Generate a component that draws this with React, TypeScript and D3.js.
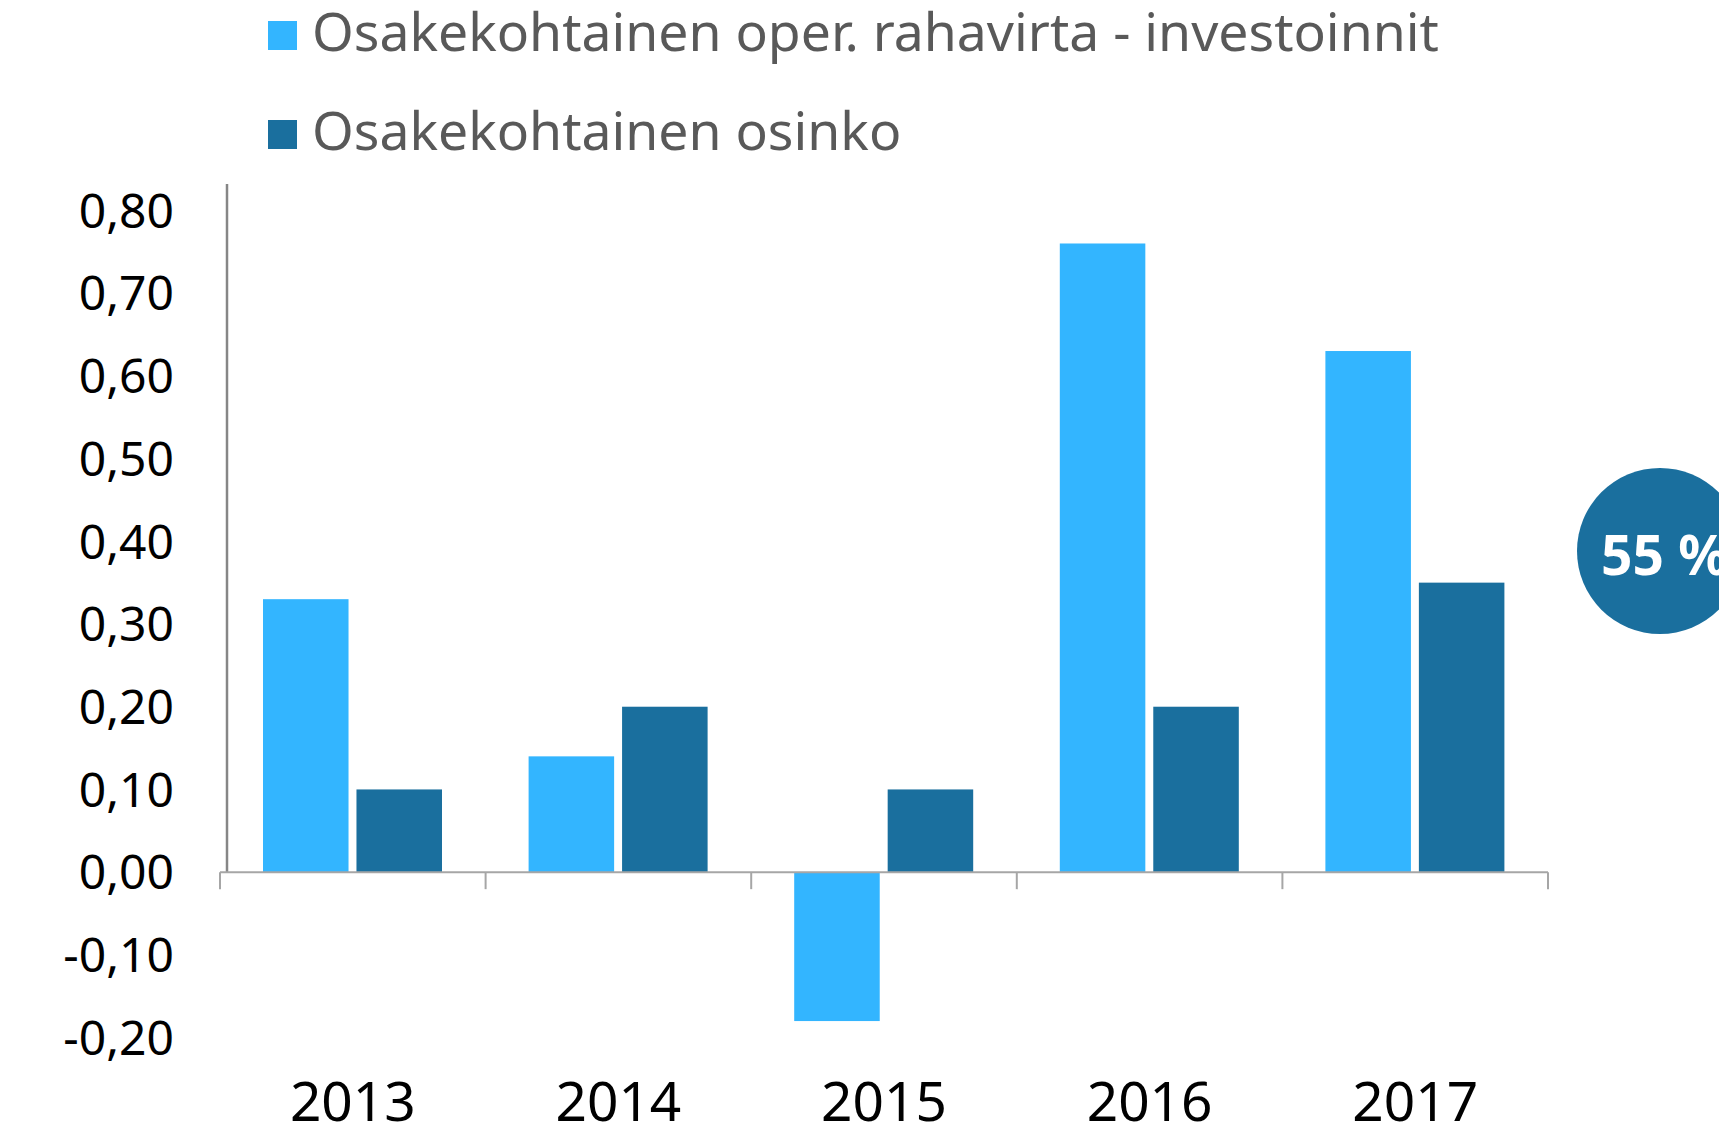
import React from 'react';
import * as d3 from 'd3';

const years = ['2013', '2014', '2015', '2016', '2017'];
const seriesNames = [
	'Osakekohtainen oper. rahavirta - investoinnit',
	'Osakekohtainen osinko',
];
const cashFlowPerShare = [0.33, 0.14, -0.18, 0.76, 0.63];
const dividendPerShare = [0.1, 0.2, 0.1, 0.2, 0.35];
const yTicks = [-0.2, -0.1, 0, 0.1, 0.2, 0.3, 0.4, 0.5, 0.6, 0.7, 0.8];
const badgeText = '55 %';

const colors = ['#33b5ff', '#1a6f9e'];
const font = "'Noto Sans', sans-serif";

const App = () => {
	const svgWidth = 1719;
	const svgHeight = 1130;

	const xScale = d3.scaleBand().domain(years).range([220, 1548]);
	const innerScale = d3
		.scaleBand()
		.domain(seriesNames)
		.range([43, 222])
		.paddingInner(0.085);
	const yScale = d3.scaleLinear().domain([-0.2, 0.8]).range([1037.6, 210.4]);

	const seriesValues = [cashFlowPerShare, dividendPerShare];
	const fmt = (v) => d3.format('.2f')(v).replace('.', ',').replace('−', '-');
	const zeroY = yScale(0);

	return (
		<svg
			width={svgWidth}
			height={svgHeight}
			style={{ position: 'absolute', left: 0, top: 0, display: 'block' }}
		>
			{/* legend */}
			<g className='legend'>
				{seriesNames.map((name, i) => (
					<g key={name} transform={`translate(268, ${21 + i * 99})`}>
						<rect width={29} height={29} fill={colors[i]} />
						<text
							x={44}
							y={30}
							fontFamily={font}
							fontSize={53.5}
							fill='#595959'
						>
							{name}
						</text>
					</g>
				))}
			</g>

			{/* bars */}
			<g className='bars'>
				{seriesValues.map((values, s) =>
					values.map((v, i) => {
						const x = xScale(years[i]) + innerScale(seriesNames[s]);
						const y0 = yScale(Math.max(0, v));
						const y1 = yScale(Math.min(0, v));
						return (
							<rect
								key={s + '-' + i}
								x={x}
								y={y0}
								width={innerScale.bandwidth()}
								height={y1 - y0}
								fill={colors[s]}
							/>
						);
					})
				)}
			</g>

			{/* y axis */}
			<g className='axis-left'>
				<line x1={227} x2={227} y1={184} y2={zeroY} stroke='#868686' strokeWidth={2.5} />
				{yTicks.map((t) => (
					<text
						key={t}
						x={174}
						y={yScale(t)}
						dy='0.36em'
						textAnchor='end'
						fontFamily={font}
						fontSize={48}
						fill='#000'
					>
						{fmt(t)}
					</text>
				))}
			</g>

			{/* x axis */}
			<g className='axis-bottom'>
				<line x1={220} x2={1548} y1={zeroY} y2={zeroY} stroke='#a6a6a6' strokeWidth={2} />
				{[...years.map((d) => xScale(d)), xScale.range()[1]].map((x, i) => (
					<line
						key={'tick' + i}
						x1={x}
						x2={x}
						y1={zeroY}
						y2={zeroY + 17}
						stroke='#a6a6a6'
						strokeWidth={2}
					/>
				))}
				{years.map((d) => (
					<text
						key={d}
						x={xScale(d) + xScale.bandwidth() / 2}
						y={1121}
						textAnchor='middle'
						fontFamily={font}
						fontSize={55}
						fill='#000'
					>
						{d}
					</text>
				))}
			</g>

			{/* badge */}
			<g className='badge'>
				<circle cx={1660} cy={551} r={83} fill={colors[1]} />
				<text
					x={1601}
					y={575}
					fontFamily={font}
					fontWeight='bold'
					fontSize={55}
					fill='#fff'
				>
					{badgeText}
				</text>
			</g>
		</svg>
	);
};

export default App;
